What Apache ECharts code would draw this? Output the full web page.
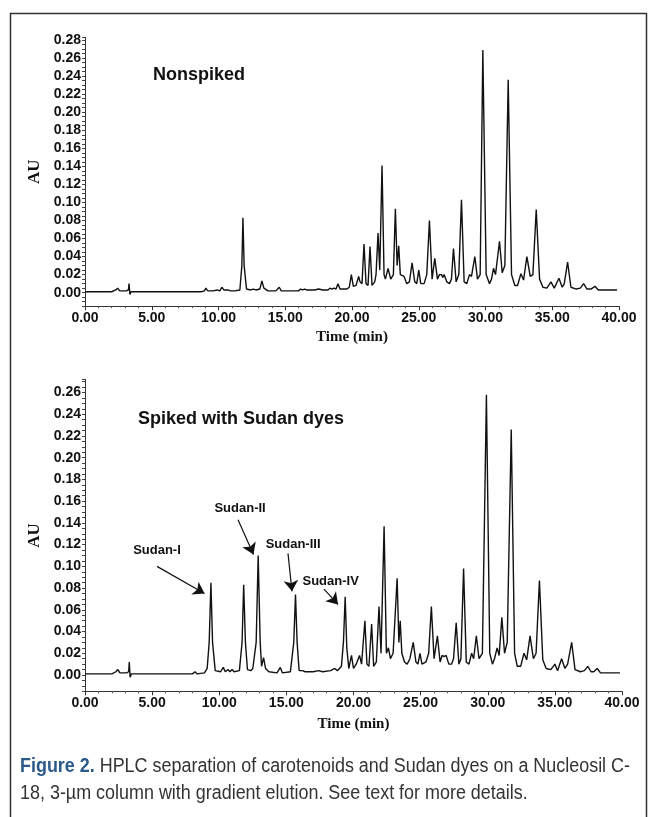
<!DOCTYPE html>
<html>
<head>
<meta charset="utf-8">
<script src="https://cdn.jsdelivr.net/npm/echarts@6/dist/echarts.min.js"></script>
<style>
html,body{margin:0;padding:0;background:#fff;}
#chart{width:648px;height:817px;}
</style>
</head>
<body>
<div id="chart"></div>
<script>
// ---- Data ----
// Nonspiked chromatogram: time (min), absorbance (AU)
var timeTop = [0,2.0,2.3,2.45,2.6,3.1,3.25,3.3,3.36,3.45,5.0,8.7,8.95,9.05,9.2,9.6,9.9,10.1,10.25,10.4,10.7,10.9,11.2,11.6,11.75,11.83,11.92,12.1,12.4,12.6,12.8,13.1,13.25,13.4,13.7,14.3,14.55,14.7,15.2,16.0,16.15,16.3,16.45,16.6,17.2,17.5,17.8,18.2,18.35,18.5,18.65,18.8,18.95,19.1,19.6,19.8,19.95,20.1,20.3,20.5,20.6,20.75,20.9,21.05,21.2,21.35,21.5,21.7,21.8,21.95,22.08,22.25,22.4,22.5,22.7,22.9,23.1,23.25,23.38,23.5,23.62,23.9,24.1,24.3,24.5,24.7,24.85,25.0,25.15,25.4,25.6,25.8,26.0,26.2,26.4,26.55,26.7,26.8,26.9,27.1,27.3,27.45,27.6,27.8,28.0,28.2,28.4,28.6,28.8,28.95,29.2,29.4,29.6,29.8,30.05,30.3,30.45,30.6,30.75,31.05,31.25,31.45,31.7,31.95,32.2,32.4,32.65,32.85,33.1,33.35,33.55,33.8,34.05,34.3,34.6,34.9,35.15,35.5,35.75,35.9,36.15,36.4,36.8,37.1,37.35,37.6,37.9,38.2,38.45,39.0,39.85];
var auTop = [0.001,0.001,0.003,0.005,0.002,0.002,0.003,0.010,-0.002,0.001,0.001,0.001,0.002,0.005,0.002,0.002,0.003,0.002,0.006,0.003,0.003,0.002,0.002,0.003,0.030,0.083,0.030,0.004,0.003,0.004,0.003,0.004,0.013,0.005,0.002,0.002,0.006,0.002,0.002,0.002,0.004,0.003,0.004,0.003,0.003,0.004,0.003,0.003,0.005,0.004,0.005,0.004,0.010,0.004,0.004,0.006,0.020,0.007,0.008,0.018,0.012,0.010,0.054,0.010,0.008,0.051,0.008,0.012,0.020,0.066,0.025,0.141,0.020,0.015,0.027,0.015,0.020,0.093,0.030,0.052,0.020,0.018,0.010,0.012,0.033,0.012,0.010,0.025,0.010,0.010,0.020,0.080,0.015,0.038,0.015,0.020,0.020,0.017,0.020,0.012,0.010,0.015,0.049,0.012,0.020,0.103,0.012,0.010,0.020,0.018,0.040,0.015,0.020,0.269,0.020,0.010,0.015,0.027,0.020,0.057,0.022,0.030,0.236,0.020,0.008,0.008,0.021,0.014,0.040,0.018,0.020,0.092,0.015,0.006,0.005,0.012,0.005,0.016,0.006,0.010,0.034,0.006,0.004,0.005,0.010,0.004,0.004,0.007,0.003,0.003,0.003];

// Spiked chromatogram: time (min), absorbance (AU)
var timeBottom = [0,2.0,2.3,2.45,2.6,3.1,3.25,3.3,3.36,3.45,5.0,8.0,8.2,8.35,8.9,9.1,9.25,9.38,9.5,9.7,10.1,10.3,10.45,10.65,10.8,10.95,11.1,11.5,11.7,11.82,11.95,12.1,12.35,12.5,12.75,12.9,13.05,13.15,13.3,13.45,13.7,14.3,14.55,14.7,15.3,15.55,15.68,15.8,15.95,16.2,16.4,17.0,17.4,17.7,18.3,18.6,18.8,19.1,19.25,19.38,19.5,19.65,19.85,20.0,20.2,20.45,20.6,20.85,21.0,21.15,21.35,21.5,21.7,21.9,22.05,22.28,22.45,22.6,22.75,22.95,23.25,23.38,23.48,23.6,23.8,24.0,24.2,24.45,24.65,24.8,24.95,25.1,25.4,25.6,25.8,26.0,26.25,26.45,26.6,26.75,26.9,27.1,27.3,27.45,27.65,27.85,28.0,28.2,28.4,28.6,28.8,28.95,29.15,29.35,29.6,29.9,30.15,30.35,30.5,30.7,30.85,31.05,31.25,31.45,31.75,32.0,32.2,32.45,32.7,32.9,33.15,33.4,33.6,33.85,34.1,34.35,34.7,35.0,35.2,35.5,35.75,35.95,36.25,36.5,36.9,37.2,37.45,37.7,37.9,38.15,38.4,39.0,39.85];
var auBottom = [0.001,0.001,0.003,0.005,0.002,0.002,0.003,0.012,-0.002,0.001,0.001,0.001,0.003,0.001,0.002,0.006,0.030,0.085,0.030,0.004,0.003,0.007,0.003,0.005,0.003,0.005,0.003,0.004,0.030,0.083,0.030,0.005,0.004,0.006,0.030,0.110,0.030,0.008,0.016,0.006,0.003,0.002,0.007,0.002,0.003,0.030,0.074,0.030,0.004,0.004,0.003,0.003,0.004,0.003,0.004,0.006,0.004,0.008,0.030,0.072,0.025,0.006,0.018,0.006,0.010,0.018,0.010,0.050,0.010,0.008,0.047,0.008,0.012,0.063,0.020,0.137,0.020,0.025,0.015,0.020,0.089,0.030,0.050,0.020,0.012,0.010,0.015,0.030,0.012,0.010,0.020,0.010,0.012,0.020,0.063,0.015,0.036,0.012,0.018,0.017,0.018,0.010,0.010,0.015,0.048,0.010,0.015,0.098,0.012,0.010,0.020,0.015,0.036,0.015,0.020,0.258,0.020,0.010,0.015,0.025,0.018,0.053,0.020,0.030,0.226,0.020,0.008,0.008,0.020,0.014,0.036,0.015,0.020,0.087,0.014,0.006,0.005,0.010,0.004,0.015,0.006,0.010,0.030,0.005,0.003,0.004,0.008,0.003,0.003,0.006,0.002,0.002,0.002];

// Axis ticks
var xTicks = [0, 5, 10, 15, 20, 25, 30, 35, 40];
var yTicksTop = [0,0.02,0.04,0.06,0.08,0.10,0.12,0.14,0.16,0.18,0.20,0.22,0.24,0.26,0.28];
var yTicksBottom = [0,0.02,0.04,0.06,0.08,0.10,0.12,0.14,0.16,0.18,0.20,0.22,0.24,0.26];

// Annotations (spiked chart): name, label point, arrow start, arrow end (time, AU)
var dyeNames = ['Sudan-I', 'Sudan-II', 'Sudan-III', 'Sudan-IV'];
var dyeLabelAt = [[5.36, 0.115], [11.55, 0.153], [15.5, 0.120], [18.3, 0.086]];
var dyeArrowFrom = [[5.36, 0.100], [11.4, 0.143], [15.12, 0.112], [17.8, 0.079]];
var dyeArrowTo = [[8.9, 0.075], [12.55, 0.111], [15.42, 0.077], [18.85, 0.065]];

var panelTitles = ['Nonspiked', 'Spiked with Sudan dyes'];
var xName = 'Time (min)';
var yName = 'AU';
var captionBold = 'Figure 2.';
var captionLine1 = ' HPLC separation of carotenoids and Sudan dyes on a Nucleosil C-';
var captionLine2 = '18, 3-\u00b5m column with gradient elution. See text for more details.';

// ---- Build ----
function zip(a, b) { return a.map(function (t, i) { return [t, b[i]]; }); }
function isMajor(v, list) {
  for (var i = 0; i < list.length; i++) if (Math.abs(v - list[i]) < 1e-7) return true;
  return false;
}
var sansBold = 'Liberation Sans, Arial, sans-serif';
var serif = 'Liberation Serif, Times New Roman, serif';
var capFont = 'Liberation Sans, Arial, sans-serif';
var capSize = 20;

// condense the caption horizontally to the reference's line length
var mc = document.createElement('canvas').getContext('2d');
mc.font = 'bold ' + capSize + 'px ' + capFont;
var wBold = mc.measureText(captionBold).width;
mc.font = capSize + 'px ' + capFont;
var wRest = mc.measureText(captionLine1).width;
var capScale = 610 / (wBold + wRest);

function makeX(idx) {
  return {
    type: 'value', gridIndex: idx, min: 0, max: 40, interval: 5,
    name: xName, nameLocation: 'middle', nameGap: idx === 0 ? 23 : 25,
    nameTextStyle: { fontFamily: serif, fontWeight: 'bold', fontSize: 15, color: '#111' },
    axisLine: { onZero: false, lineStyle: { color: '#333', width: 1 } },
    axisTick: { show: true, length: 4, inside: false, lineStyle: { color: '#333' } },
    minorTick: { show: true, splitNumber: 5, length: 2, lineStyle: { color: '#555' } },
    axisLabel: { fontFamily: sansBold, fontWeight: 'bold', fontSize: 14, color: '#111', margin: 5,
      formatter: function (v) { return isMajor(v, xTicks) ? v.toFixed(2) : ''; } },
    splitLine: { show: false }
  };
}
function makeY(idx, min, max, list) {
  return {
    type: 'value', gridIndex: idx, min: min, max: max, interval: 0.005,
    name: yName, nameLocation: 'middle', nameGap: 37, nameRotate: 90,
    nameTextStyle: { fontFamily: serif, fontWeight: 'bold', fontSize: 17, color: '#111' },
    axisLine: { onZero: false, lineStyle: { color: '#333', width: 1 } },
    axisTick: { show: true, length: 3, lineStyle: { color: '#444' } },
    axisLabel: { fontFamily: sansBold, fontWeight: 'bold', fontSize: 14, color: '#111', margin: 4,
      formatter: function (v) { return isMajor(v, list) ? v.toFixed(2) : ''; } },
    splitLine: { show: false }
  };
}

var markLineData = dyeNames.map(function (n, i) {
  return [{ coord: dyeArrowFrom[i], symbol: 'none' }, { coord: dyeArrowTo[i], symbol: 'arrow' }];
});
var markPointData = dyeNames.map(function (n, i) {
  return { name: n, coord: dyeLabelAt[i], value: n };
});

var chart = echarts.init(document.getElementById('chart'), null, { renderer: 'canvas' });
chart.setOption({
  backgroundColor: '#fff',
  animation: false,
  grid: [
    { left: 85, width: 534, top: 37.3, height: 268.9 },
    { left: 85, width: 537, top: 379.5, height: 311.8 }
  ],
  xAxis: [makeX(0), makeX(1)],
  yAxis: [makeY(0, -0.015, 0.283, yTicksTop), makeY(1, -0.015, 0.272, yTicksBottom)],
  series: [
    { type: 'line', xAxisIndex: 0, yAxisIndex: 0, data: zip(timeTop, auTop), showSymbol: false,
      lineStyle: { color: '#111', width: 1.4 }, silent: true },
    { type: 'line', xAxisIndex: 1, yAxisIndex: 1, data: zip(timeBottom, auBottom), showSymbol: false,
      lineStyle: { color: '#111', width: 1.4 }, silent: true,
      markLine: { silent: true, symbol: ['none', 'arrow'], symbolSize: 11, precision: 4,
        lineStyle: { color: '#111', width: 1.2, type: 'solid' }, label: { show: false },
        emphasis: { disabled: true },
        data: markLineData },
      markPoint: { silent: true, symbol: 'circle', symbolSize: 0,
        label: { show: true, position: 'inside', formatter: '{b}', color: '#111',
          fontFamily: sansBold, fontWeight: 'bold', fontSize: 13 },
        data: markPointData }
    }
  ],
  graphic: [
    { type: 'rect', shape: { x: 10.5, y: 13.5, width: 636, height: 820 },
      style: { fill: 'none', stroke: '#333', lineWidth: 1.5 }, silent: true },
    { type: 'text', left: 153, top: 66, style: { text: panelTitles[0], fontFamily: sansBold,
      fontWeight: 'bold', fontSize: 18, fill: '#111' } },
    { type: 'text', left: 138, top: 410, style: { text: panelTitles[1], fontFamily: sansBold,
      fontWeight: 'bold', fontSize: 18, fill: '#111' } },
    { type: 'text', x: 20, y: 753, scaleX: capScale, scaleY: 1, style: {
      text: '{b|' + captionBold + '}{n|' + captionLine1 + '}\n{n|' + captionLine2 + '}',
      rich: {
        b: { fontFamily: capFont, fontWeight: 'bold', fontSize: capSize, fill: '#2b5a8a', lineHeight: 27 },
        n: { fontFamily: capFont, fontSize: capSize, fill: '#333', lineHeight: 27 }
      } } }
  ]
});
</script>
</body>
</html>
